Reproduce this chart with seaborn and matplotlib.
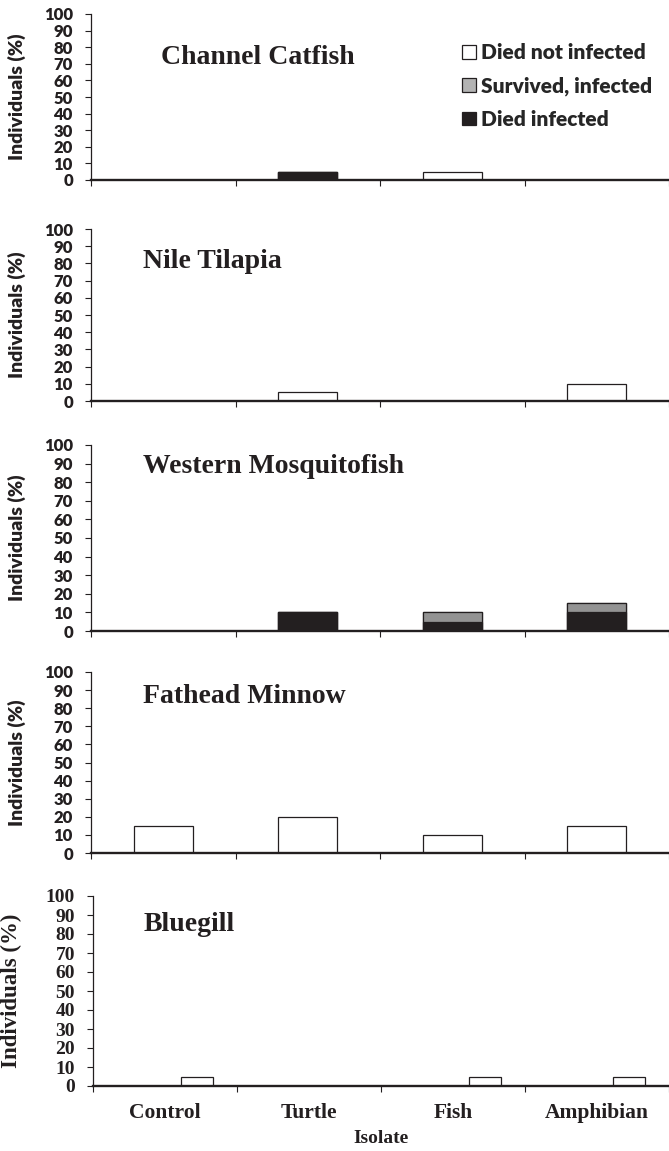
import matplotlib
matplotlib.use("Agg")
import matplotlib.pyplot as plt
import seaborn as sns
import pandas as pd
import numpy as np
from matplotlib.patches import Patch

# ---------------- data ----------------
isolates = ["Control", "Turtle", "Fish", "Amphibian"]
species = ["Channel Catfish", "Nile Tilapia", "Western Mosquitofish",
           "Fathead Minnow", "Bluegill"]
series = ["Died not infected", "Survived, infected", "Died infected"]

died_not_infected = {
    "Channel Catfish":      [0, 0, 5, 0],
    "Nile Tilapia":         [0, 5, 0, 10],
    "Western Mosquitofish": [0, 0, 0, 0],
    "Fathead Minnow":       [15, 20, 10, 15],
    "Bluegill":             [5, 0, 5, 5],
}
survived_infected = {
    "Channel Catfish":      [0, 0, 0, 0],
    "Nile Tilapia":         [0, 0, 0, 0],
    "Western Mosquitofish": [0, 0, 5, 5],
    "Fathead Minnow":       [0, 0, 0, 0],
    "Bluegill":             [0, 0, 0, 0],
}
died_infected = {
    "Channel Catfish":      [0, 5, 0, 0],
    "Nile Tilapia":         [0, 0, 0, 0],
    "Western Mosquitofish": [0, 10, 5, 10],
    "Fathead Minnow":       [0, 0, 0, 0],
    "Bluegill":             [0, 0, 0, 0],
}
y_ticks = list(range(0, 101, 10))

# ---------------- style ----------------
WHITE = "#ffffff"
GRAY = "#939393"
GRAY_LEG = "#b3b3b3"
BLACK = "#231f20"
EDGE = "#231f20"
SANS_W = "heavy"

sns.set_theme(style="white")
plt.rcParams["font.family"] = ["Lato", "DejaVu Sans"]
plt.rcParams["axes.edgecolor"] = EDGE

SANS = ["Lato", "DejaVu Sans"]
SERIF = ["Liberation Serif", "DejaVu Serif"]

W, H = 669, 1151
fig = plt.figure(figsize=(W / 100, H / 100), dpi=100)

# panel geometry in pixels: (left, top(y=100), bottom(y=0))
geom = {
    "Channel Catfish":      (91, 14, 180),
    "Nile Tilapia":         (91, 229, 401),
    "Western Mosquitofish": (91, 445, 631),
    "Fathead Minnow":       (91, 672, 853),
    "Bluegill":             (93, 896, 1086),
}
title_pos = {
    "Channel Catfish":      (0.121, 0.699),
    "Nile Tilapia":         (0.090, 0.773),
    "Western Mosquitofish": (0.090, 0.849),
    "Fathead Minnow":       (0.090, 0.829),
    "Bluegill":             (0.087, 0.816),
}

for sp in species:
    left, top, bot = geom[sp]
    ax = fig.add_axes([left / W, (H - bot) / H, (W - left) / W, (bot - top) / H])
    dni = np.array(died_not_infected[sp], dtype=float)
    si = np.array(survived_infected[sp], dtype=float)
    di = np.array(died_infected[sp], dtype=float)

    if sp != "Bluegill":
        layers = [(dni + si + di, WHITE), (si + di, GRAY), (di, BLACK)]
        for vals, col in layers:
            df = pd.DataFrame({"Isolate": isolates, "Value": vals})
            sns.barplot(data=df, x="Isolate", y="Value", order=isolates,
                        color=col, saturation=1, width=0.41, errorbar=None,
                        edgecolor=EDGE, linewidth=0.9, ax=ax)
    else:
        df = pd.DataFrame({
            "Isolate": isolates * 3,
            "Series": ["Died infected"] * 4 + ["Survived, infected"] * 4
                      + ["Died not infected"] * 4,
            "Value": np.concatenate([di, si, dni]),
        })
        sns.barplot(data=df, x="Isolate", y="Value", hue="Series",
                    order=isolates,
                    hue_order=["Died infected", "Survived, infected", "Died not infected"],
                    palette={"Died infected": BLACK, "Survived, infected": GRAY,
                             "Died not infected": WHITE},
                    saturation=1, width=0.667, dodge=True, errorbar=None,
                    edgecolor=EDGE, linewidth=0.9, legend=False, ax=ax)

    for p in ax.patches:
        if p.get_height() == 0:
            p.set_visible(False)

    ax.set_ylim(0, 100)
    ax.set_xlim(-0.5, 3.5)
    ax.set_yticks(y_ticks)
    ax.set_xticks([-0.5, 0.5, 1.5, 2.5, 3.5])
    ax.set_xticklabels([])
    ax.grid(False)
    for s in ["top", "right"]:
        ax.spines[s].set_visible(False)
    ax.spines["bottom"].set_linewidth(1.7)
    ax.spines["bottom"].set_color(EDGE)
    ax.spines["left"].set_linewidth(0.9)
    ax.spines["left"].set_color(EDGE)
    ax.tick_params(axis="x", which="major", direction="out", length=4.5,
                   width=0.8, color=EDGE, bottom=True)
    ax.tick_params(axis="y", direction="out", length=4, width=0.8,
                   color=EDGE, left=True, pad=9)

    if sp != "Bluegill":
        for lab in ax.get_yticklabels():
            lab.set_fontfamily(SANS)
            lab.set_fontweight(SANS_W)
            lab.set_fontsize(12)
            lab.set_color("#231f20")
        ax.set_xlabel("")
        ax.set_ylabel("Individuals (%)", fontsize=14, fontweight=SANS_W,
                      family=SANS, color="#231f20")
        ax.yaxis.set_label_coords(-0.112, 0.5)
    else:
        for lab in ax.get_yticklabels():
            lab.set_fontfamily(SERIF)
            lab.set_fontweight("bold")
            lab.set_fontsize(14)
            lab.set_color("#231f20")
        ax.set_ylabel("Individuals (%)", fontsize=16.5, fontweight="bold",
                      family=SERIF, color="#231f20")
        ax.yaxis.set_label_coords(-0.123, 0.5)
        ax.set_xticks([0, 1, 2, 3], minor=True)
        ax.set_xticklabels(isolates, minor=True, fontsize=15.5,
                           fontweight="bold", family=SERIF, color="#231f20")
        ax.tick_params(axis="x", which="minor", length=0, pad=12)
        ax.set_xlabel("Isolate", fontsize=14, fontweight="bold",
                      family=SERIF, color="#231f20", labelpad=5)

    tx, ty = title_pos[sp]
    ax.text(tx, ty, sp, transform=ax.transAxes, ha="left", va="baseline",
            fontsize=20, fontweight="bold", family=SERIF, color="#231f20")

    if sp == "Channel Catfish":
        handles = [Patch(facecolor=WHITE, edgecolor=EDGE, linewidth=0.9),
                   Patch(facecolor=GRAY_LEG, edgecolor=EDGE, linewidth=0.9),
                   Patch(facecolor=BLACK, edgecolor=EDGE, linewidth=0.9)]
        fig.legend(handles, series, loc="upper left",
                   bbox_to_anchor=(462 / W, 1 - 43 / H), frameon=False,
                   borderpad=0, borderaxespad=0, handlelength=0.65,
                   handleheight=0.65, handletextpad=0.25, labelspacing=0.68,
                   prop={"family": SANS, "weight": SANS_W, "size": 15})

fig.savefig("out.png", dpi=100)
